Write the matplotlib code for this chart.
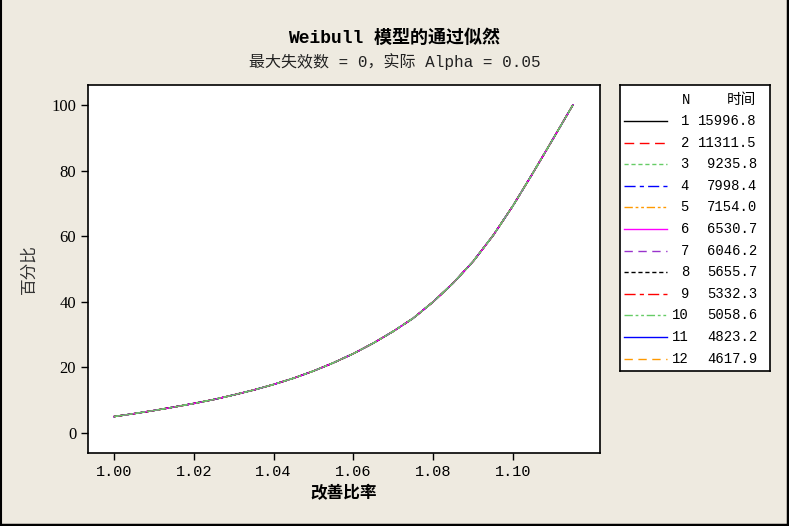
import numpy as np
import matplotlib
matplotlib.use('Agg')
import matplotlib.pyplot as plt
from matplotlib.lines import Line2D

plt.rcParams['font.family'] = ['Liberation Mono', 'Noto Sans CJK SC', 'DejaVu Sans']

# curve (all 12 curves sit on top of each other)
ratio = [1.000, 1.005, 1.010, 1.015, 1.020, 1.025, 1.030, 1.035, 1.040,
         1.045, 1.050, 1.055, 1.060, 1.065, 1.070, 1.075, 1.080, 1.085,
         1.090, 1.095, 1.100, 1.105, 1.110, 1.115]
percent = [5.0, 5.9, 6.85, 7.9, 9.0, 10.2, 11.6, 13.1, 14.8,
           16.7, 18.9, 21.4, 24.2, 27.4, 31.0, 35.0, 40.0, 45.7,
           52.3, 60.2, 69.3, 79.3, 89.6, 100.0]

sample_n = ['1', '2', '3', '4', '5', '6', '7', '8', '9', '10', '11', '12']
times = ['15996.8', '11311.5', '9235.8', '7998.4', '7154.0', '6530.7',
         '6046.2', '5655.7', '5332.3', '5058.6', '4823.2', '4617.9']

colors = ['black', 'red', '#66cc66', 'blue', '#ff9900', 'magenta',
          '#9933cc', 'black', 'red', '#66cc66', 'blue', '#ff9900']
styles = ['-', (0, (7, 4)), (0, (3, 2)), (0, (8, 3, 3, 3)), (0, (6, 2, 2, 2, 2, 2)),
          '-', (0, (6, 4)), (0, (3, 2)), (0, (8, 3, 3, 3)), (0, (6, 2, 2, 2, 2, 2)),
          '-', (0, (6, 4))]

bg = '#eeeae0'
fig = plt.figure(figsize=(7.89, 5.26), dpi=100, facecolor=bg)
ax = fig.add_axes([88/789, 73/526, 512/789, 368/526])

# draw so the green curves end up on top, like the original
order = [11, 10, 8, 7, 6, 4, 3, 1, 0, 5, 9, 2]
for i in order:
    ax.plot(ratio, percent, color=colors[i], linestyle=styles[i], linewidth=1.0)

ax.set_xlim(0.9935, 1.1218)
ax.set_ylim(-6.1, 106.1)
ax.set_xticks([1.00, 1.02, 1.04, 1.06, 1.08, 1.10])
ax.set_xticklabels(['1.00', '1.02', '1.04', '1.06', '1.08', '1.10'],
                   family=['Liberation Mono'], fontsize=11)
ax.set_yticks([0, 20, 40, 60, 80, 100])
ax.set_yticklabels(['0', '20', '40', '60', '80', '100'],
                   family=['Liberation Serif'], fontsize=12)
ax.tick_params(direction='out', length=5, width=1, colors='black')
for s in ax.spines.values():
    s.set_linewidth(1.2)

ax.set_xlabel('改善比率', family=['Noto Sans CJK SC'], fontsize=12,
              fontweight='bold', labelpad=4)
ax.set_ylabel('百分比', family=['Noto Sans CJK SC'], fontsize=12, labelpad=10,
              color='#333333')

fig.text(0.5, 1 - 38/526, 'Weibull 模型的通过似然', ha='center', va='center',
         fontsize=13, fontweight='bold', family=['Liberation Mono', 'Noto Sans CJK SC'])
fig.text(0.5, 1 - 62/526, '最大失效数 = 0，实际 Alpha = 0.05', ha='center',
         va='center', fontsize=11.5, color='#222222',
         family=['Liberation Mono', 'Noto Sans CJK SC'])

# legend box
lg = fig.add_axes([620/789, 155/526, 150/789, 286/526])
lg.set_xlim(0, 150)
lg.set_ylim(286, 0)
lg.set_xticks([])
lg.set_yticks([])
for s in lg.spines.values():
    s.set_linewidth(1.2)
lg.text(70, 15, 'N', ha='right', va='center', fontsize=10)
lg.text(136, 15, '时间', ha='right', va='center', fontsize=10.5,
        family=['Noto Sans CJK SC'])
for k in range(len(sample_n)):
    y = 36 + k * 21.6
    lg.add_line(Line2D([4, 47], [y, y], color=colors[k], linestyle=styles[k],
                       linewidth=1.0))
    lg.text(69, y, sample_n[k], ha='right', va='center', fontsize=10)
    lg.text(137, y, times[k], ha='right', va='center', fontsize=10)

# window frame lines
fig.add_artist(Line2D([0.5/789, 0.5/789], [0, 1], color='black', linewidth=1.5,
                      transform=fig.transFigure))
fig.add_artist(Line2D([1 - 1/789, 1 - 1/789], [0, 1], color='black', linewidth=2.5,
                      transform=fig.transFigure))
fig.add_artist(Line2D([0, 1], [1/526, 1/526], color='black', linewidth=2.5,
                      transform=fig.transFigure))

fig.savefig('out.png', dpi=100, facecolor=bg)
